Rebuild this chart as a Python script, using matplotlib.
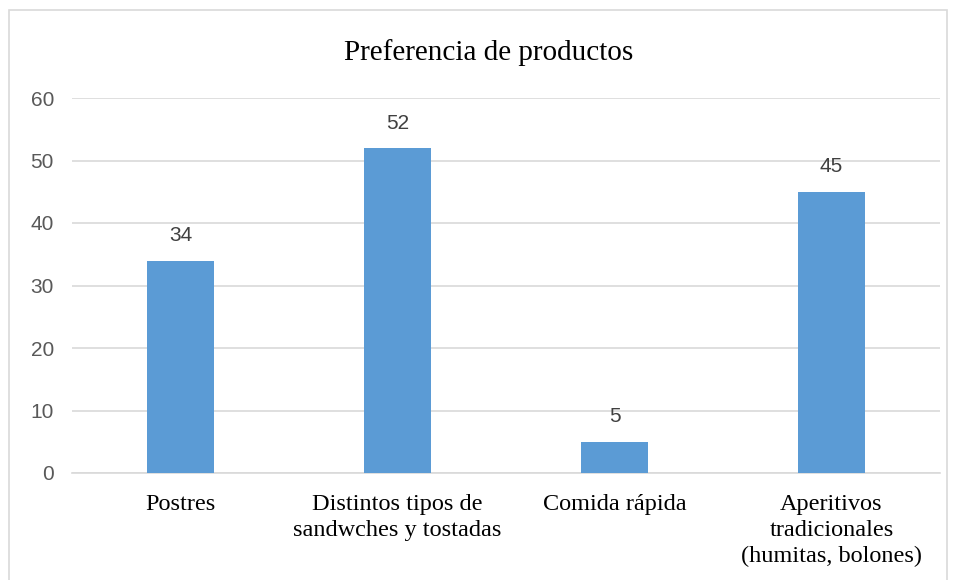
import matplotlib
matplotlib.use("Agg")
from matplotlib import pyplot as plt
from matplotlib.patches import Rectangle

# Data
categories = ["Postres", "Distintos tipos de\nsandwches y tostadas", "Comida rápida",
              "Aperitivos\ntradicionales\n(humitas, bolones)"]
values = [34, 52, 5, 45]
yticks = [0, 10, 20, 30, 40, 50, 60]

serif = ["Liberation Serif", "DejaVu Serif"]
sans = ["Liberation Sans", "DejaVu Sans"]

fig = plt.figure(figsize=(9.55, 5.8), dpi=100)
ax = fig.add_axes([72 / 955, 1 - 473 / 580, (940 - 72) / 955, (473 - 98) / 580])

# Outer chart border
fig.patches.append(Rectangle((9 / 955, -0.05), (947 - 9) / 955, 1.05 - 10 / 580,
                             transform=fig.transFigure, fill=False,
                             edgecolor="#D9D9D9", linewidth=1.2))

x = range(len(categories))
bars = ax.bar(x, values, width=0.31, color="#5B9BD5", zorder=3)

# Data labels
for rect, v in zip(bars, values):
    ax.annotate(str(v), (rect.get_x() + rect.get_width() / 2, v),
                xytext=(0, 11), textcoords="offset points",
                ha="center", va="bottom", fontsize=15, color="#404040",
                family=sans)

ax.set_xlim(-0.5, len(categories) - 0.5)
ax.set_ylim(0, 60)
ax.set_yticks(yticks)
ax.set_yticklabels([str(t) for t in yticks], family=sans, fontsize=15, color="#595959")
ax.set_xticks(list(x))
ax.set_xticklabels(categories, family=serif, fontsize=17.5, color="#000000",
                   va="top", linespacing=1.3)
ax.tick_params(axis="both", length=0)
ax.tick_params(axis="y", pad=13)
ax.tick_params(axis="x", pad=15)

ax.grid(axis="y", color="#D9D9D9", linewidth=1.2, zorder=0)
for side in ["left", "right", "top"]:
    ax.spines[side].set_visible(False)
ax.spines["bottom"].set_color("#D9D9D9")
ax.spines["bottom"].set_linewidth(1.2)

fig.text(489 / 955, 1 - 53 / 580, "Preferencia de productos", ha="center", va="center",
         family=serif, fontsize=21, color="#000000")

fig.savefig("out.png", dpi=100)
